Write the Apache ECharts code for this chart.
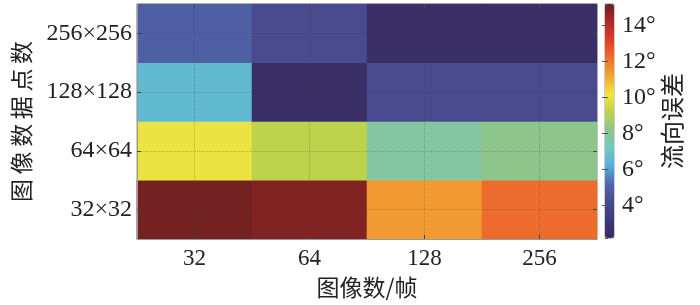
<!DOCTYPE html>
<html><head><meta charset="utf-8">
<script src="https://cdn.jsdelivr.net/npm/echarts/dist/echarts.min.js"></script>
<style>html,body{margin:0;padding:0;background:#fff}#c{width:700px;height:305px}</style>
</head><body><div id="c"></div>
<script>
// ---- data ----
const xCategories = ['32', '64', '128', '256'];
const yCategories = ['32×32', '64×64', '128×128', '256×256'];
const row32x32   = [15.1, 14.9, 11.4, 12.3];
const row64x64   = [10.1,  9.2,  7.8,  8.2];
const row128x128 = [ 6.6,  2.5,  4.2,  4.2];
const row256x256 = [ 4.9,  4.2,  2.5,  2.5];
const colorMin = 2.2, colorMax = 15.2;
const xTitle = '图像数/帧';
const yTitle = '图\u2009像\u2009数\u2009据\u2009点\u2009数';
const cbTitle = '流向误差';

const rows = [row32x32, row64x64, row128x128, row256x256];
const heatData = [];
rows.forEach((r, yi) => r.forEach((v, xi) => heatData.push([xi, yi, v])));

const serif = '"Liberation Serif", "Noto Sans CJK SC", serif';
const cjk = '"Noto Sans CJK SC", "Liberation Serif", sans-serif';
const txt = '#222';
const boxColor = '#9a9a9a';

const chart = echarts.init(document.getElementById('c'), null, {renderer: 'canvas'});
chart.setOption({
  animation: false,
  backgroundColor: '#fff',
  grid: [
    {left: 137, top: 4, width: 460, height: 235, show: true, borderColor: boxColor, borderWidth: 1, backgroundColor: 'transparent'},
    {left: 605, top: 4, width: 9, height: 234, show: true, borderColor: boxColor, borderWidth: 1, backgroundColor: 'transparent'}
  ],
  xAxis: [
    {type: 'category', gridIndex: 0, data: xCategories, position: 'bottom', z: 5,
     axisLine: {show: true, lineStyle: {color: boxColor}},
     axisTick: {show: true, inside: true, alignWithLabel: true, length: 4, lineStyle: {color: '#444'}},
     axisLabel: {fontFamily: serif, fontSize: 23, color: txt, margin: 8},
     splitLine: {show: true, alignWithLabel: true, lineStyle: {type: 'dotted', color: 'rgba(60,60,60,0.3)', width: 1}},
     name: xTitle, nameLocation: 'middle', nameGap: 37,
     nameTextStyle: {fontFamily: cjk, fontSize: 23, color: txt}},
    {type: 'category', gridIndex: 0, data: xCategories, position: 'top', z: 5,
     axisLine: {show: false},
     axisTick: {show: true, inside: true, alignWithLabel: true, length: 4, lineStyle: {color: '#444'}},
     axisLabel: {show: false}, splitLine: {show: false}},
    {type: 'value', gridIndex: 1, show: false, min: 0, max: 1}
  ],
  yAxis: [
    {type: 'category', gridIndex: 0, data: yCategories, position: 'left', z: 5,
     axisLine: {show: true, lineStyle: {color: boxColor}},
     axisTick: {show: true, inside: true, alignWithLabel: true, length: 4, lineStyle: {color: '#444'}},
     axisLabel: {fontFamily: serif, fontSize: 24, color: txt, margin: 5},
     splitLine: {show: true, alignWithLabel: true, lineStyle: {type: 'dotted', color: 'rgba(60,60,60,0.3)', width: 1}},
     name: yTitle, nameLocation: 'middle', nameGap: 104,
     nameTextStyle: {fontFamily: cjk, fontSize: 23, color: txt}},
    {type: 'category', gridIndex: 0, data: yCategories, position: 'right', z: 5,
     axisLine: {show: false},
     axisTick: {show: true, inside: true, alignWithLabel: true, length: 4, lineStyle: {color: '#444'}},
     axisLabel: {show: false}, splitLine: {show: false}},
    {type: 'value', gridIndex: 1, position: 'right', min: colorMin, max: colorMax, splitNumber: 6, z: 10,
     axisLine: {show: false},
     axisTick: {show: true, inside: true, length: 3, lineStyle: {color: '#555'}},
     axisLabel: {fontFamily: serif, fontSize: 24, color: txt, margin: 8, showMinLabel: false, showMaxLabel: false,
       formatter: v => (Math.abs(v - Math.round(v)) < 1e-6 && Math.round(v) % 2 === 0) ? Math.round(v) + '°' : ''},
     splitLine: {show: false},
     name: cbTitle, nameLocation: 'middle', nameGap: 46, nameRotate: 90,
     nameTextStyle: {fontFamily: cjk, fontSize: 24, color: txt}},
    {type: 'value', gridIndex: 1, position: 'left', min: colorMin, max: colorMax, splitNumber: 6, z: 10,
     axisLine: {show: false},
     axisTick: {show: true, inside: true, length: 3, lineStyle: {color: '#555'}},
     axisLabel: {show: false}, splitLine: {show: false}}
  ],
  visualMap: {
    type: 'continuous', min: colorMin, max: colorMax, calculable: false, hoverLink: false,
    left: 605, top: 4, itemWidth: 9, itemHeight: 234, padding: 0, text: ['', ''], showLabel: false,
    seriesIndex: 0, z: 4,
    inRange: {color: ['#382a5c', '#3e3a80', '#4a4a8f', '#5068ab', '#55b0de', '#74c8c0', '#8ec58a',
                      '#bed34c', '#f0e53e', '#f2a532', '#ee702c', '#e03c28', '#b02a28', '#6c2020']}
  },
  series: [{
    type: 'heatmap', xAxisIndex: 0, yAxisIndex: 0, data: heatData, z: 2,
    itemStyle: {borderWidth: 0}, emphasis: {disabled: true}
  }]
});
</script></body></html>
